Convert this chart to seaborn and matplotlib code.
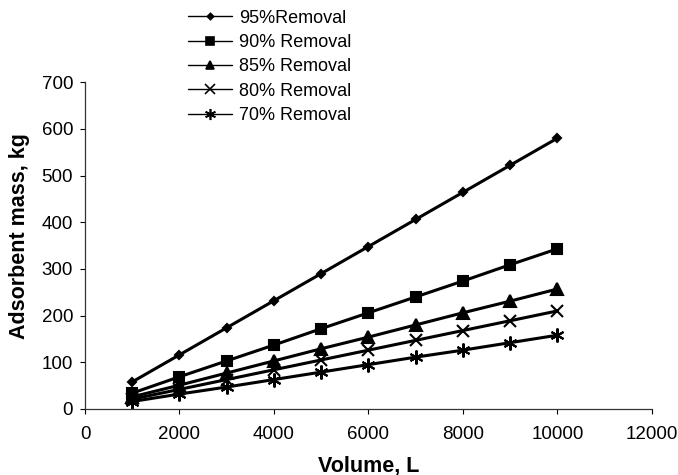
import matplotlib
matplotlib.use('Agg')
import matplotlib.pyplot as plt
import seaborn as sns
import pandas as pd

# Data
volume = [1000, 2000, 3000, 4000, 5000, 6000, 7000, 8000, 9000, 10000]
removal_95 = [58, 116, 174, 232, 290, 348, 406, 464, 522, 580]
removal_90 = [34, 69, 103, 137, 172, 206, 240, 274, 309, 343]
removal_85 = [26, 51, 77, 103, 129, 154, 180, 206, 231, 257]
removal_80 = [21, 42, 63, 84, 105, 126, 147, 168, 189, 210]
removal_70 = [16, 32, 47, 63, 79, 95, 111, 126, 142, 158]
series_labels = ['95%Removal', '90% Removal', '85% Removal', '80% Removal', '70% Removal']
x_ticks = [0, 2000, 4000, 6000, 8000, 10000, 12000]
y_ticks = [0, 100, 200, 300, 400, 500, 600, 700]

series_values = [removal_95, removal_90, removal_85, removal_80, removal_70]

sns.set_theme(style='ticks', rc={'text.color': 'black', 'axes.labelcolor': 'black',
                                 'xtick.color': 'black', 'ytick.color': 'black'})
plt.rcParams['font.family'] = ['Liberation Sans', 'DejaVu Sans']

fig = plt.figure(figsize=(6.78, 4.75), dpi=100)
ax = fig.add_axes([0.1254, 0.139, 0.836, 0.688])

# marker shape and size for each series (Excel-like)
markers = ['D', 's', '^', 'x', (6, 2, 0)]
marker_sizes = [4, 7, 8, 9, 10]

for label, vals, mk, ms in zip(series_labels, series_values, markers, marker_sizes):
    df = pd.DataFrame({'volume': volume, 'mass': vals})
    sns.lineplot(data=df, x='volume', y='mass', color='black', linewidth=2.2,
                 marker=mk, markersize=ms, markeredgewidth=1.5,
                 markeredgecolor='black', markerfacecolor='black', ax=ax)

ax.set_xlim(0, 12000)
ax.set_ylim(0, 700)
ax.set_xticks(x_ticks)
ax.set_yticks(y_ticks)
ax.tick_params(axis='both', direction='out', length=3.6, width=0.8, labelsize=13.5)
ax.tick_params(axis='x', pad=9)
ax.tick_params(axis='y', pad=5)
for side in ['top', 'right']:
    ax.spines[side].set_visible(False)
for side in ['left', 'bottom']:
    ax.spines[side].set_color('#333333')
    ax.spines[side].set_linewidth(0.9)

ax.set_xlabel('Volume, L', fontsize=15.5, fontweight='bold')
ax.set_ylabel('Adsorbent mass, kg', fontsize=15.5, fontweight='bold')
ax.xaxis.set_label_coords(0.5, -0.174)
ax.xaxis.label.set_va('center')
ax.yaxis.set_label_coords(-0.115, 0.53)
ax.yaxis.label.set_va('center')

# legend with thin handle lines
handles = []
for label, mk, ms in zip(series_labels, markers, marker_sizes):
    h, = ax.plot([], [], color='black', linewidth=1.0, marker=mk,
                 markersize=ms * 0.8, markeredgewidth=1.2, label=label)
    handles.append(h)
fig.legend(handles=handles, labels=series_labels, loc='upper left',
           bbox_to_anchor=(0.266, 0.995), frameon=False, fontsize=13,
           handlelength=2.45, handletextpad=0.4, labelspacing=0.41,
           borderaxespad=0.0)

fig.savefig('out.png', dpi=100)
